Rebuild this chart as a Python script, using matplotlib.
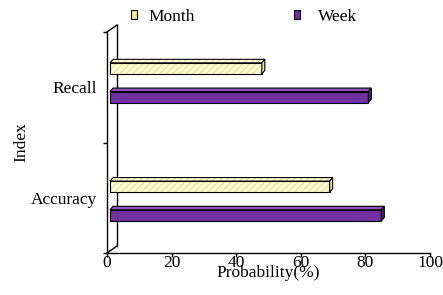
import matplotlib
matplotlib.use("Agg")
import matplotlib.pyplot as plt
import matplotlib.transforms as mtransforms
from matplotlib.patches import Polygon, Patch
from matplotlib.lines import Line2D
import numpy as np

plt.rcParams['font.family'] = ['Liberation Serif', 'DejaVu Serif']
plt.rcParams['hatch.linewidth'] = 0.9

categories = ["Accuracy", "Recall"]
month_vals = [68, 47]
week_vals = [84, 80]
series_names = ["Month", "Week"]
x_ticks = [0, 20, 40, 60, 80, 100]

FS = 12.5
W, H = 443, 295
fig = plt.figure(figsize=(W / 100, H / 100), dpi=100)
ax = fig.add_axes([107 / W, (H - 253) / H, 323 / W, 221 / H])
ax.set_xlim(0, 100)
ax.set_ylim(-0.5, 1.5)

month_color = '#FFFFE8'
month_hatch = '#EDE66A'
month_top = '#FFFFF4'
month_side = '#E8E4B0'
week_color = '#7030A0'
week_top = '#8E55BA'
week_side = '#4E1F72'

shift = mtransforms.ScaledTranslation(3 / 100, 0, fig.dpi_scale_trans)
bar_h = 0.1
y = np.arange(len(categories))
group_shift = np.array([-0.035, 0.035])  # perspective spread of the groups
offsets = {"Month": 0.136, "Week": -0.124}
DX, DY = 3, 3.5  # depth in px


def draw_series(vals, off, face, top, side, hatch=None, hcol=None):
    ys = y + group_shift + off
    if hatch:
        hb = ax.barh(ys, vals, height=bar_h, left=0, color=face, edgecolor=hcol,
                     hatch=hatch, linewidth=0, zorder=3)
        for p in hb:
            p.set_transform(ax.transData + shift)
    fb = ax.barh(ys, vals, height=bar_h, left=0,
                 color='none' if hatch else face, edgecolor='black',
                 linewidth=0.8, zorder=4)
    for p in fb:
        p.set_transform(ax.transData + shift)
    for yi, v in zip(ys, vals):
        (x0, y0), (x1, y1) = ax.transData.transform([(0, yi - bar_h / 2), (v, yi + bar_h / 2)])
        x0 += 3
        x1 += 3
        topf = [(x0, y1), (x1, y1), (x1 + DX, y1 + DY), (x0 + DX, y1 + DY)]
        sidef = [(x1, y0), (x1 + DX, y0 + DY), (x1 + DX, y1 + DY), (x1, y1)]
        for pts, c in ((topf, top), (sidef, side)):
            pg = Polygon(pts, closed=True, facecolor=c, edgecolor='black', linewidth=0.8,
                         transform=mtransforms.IdentityTransform(), zorder=4, clip_on=False)
            if hatch and c == top:
                pg2 = Polygon(pts, closed=True, facecolor=c, edgecolor=hcol, hatch=hatch,
                              linewidth=0, transform=mtransforms.IdentityTransform(),
                              zorder=3.5, clip_on=False)
                fig.add_artist(pg2)
                pg.set_facecolor('none')
            fig.add_artist(pg)


# back wall
wall = mtransforms.ScaledTranslation(10 / 100, 7 / 100, fig.dpi_scale_trans)
ax.add_line(Line2D([0, 0], [0, 1], transform=ax.transAxes + wall, color='black',
                   linewidth=1.0, clip_on=False, zorder=1))
(lx, by), (_, ty) = ax.transAxes.transform([(0, 0), (0, 1)])
for yy in (by, ty):
    fig.add_artist(Line2D([lx, lx + 10], [yy, yy + 7], color='black', linewidth=1.0,
                          transform=mtransforms.IdentityTransform(), zorder=1))

draw_series(month_vals, offsets["Month"], month_color, month_top, month_side,
            hatch='/////', hcol=month_hatch)
draw_series(week_vals, offsets["Week"], week_color, week_top, week_side)

for s in ('top', 'right'):
    ax.spines[s].set_visible(False)
for s in ('left', 'bottom'):
    ax.spines[s].set_linewidth(1.0)
    ax.spines[s].set_zorder(5)

ax.set_xticks(x_ticks)
ax.set_xticklabels([str(t) for t in x_ticks], fontsize=FS)
ax.tick_params(axis='x', direction='out', length=3, width=1.0, pad=-1.5)
ax.set_yticks([-0.5, 0.5, 1.5])
ax.set_yticklabels([])
ax.set_yticks(y, minor=True)
ax.set_yticklabels(categories, minor=True, fontsize=FS)
ax.tick_params(axis='y', which='major', direction='out', length=3, width=1.0)
ax.tick_params(axis='y', which='minor', length=0, pad=7.2)

ax.set_xlabel("Probability(%)", fontsize=FS)
ax.xaxis.set_label_coords(0.5, -0.055)
ax.set_ylabel("Index", fontsize=FS)
ax.yaxis.set_label_coords(-0.241, 0.5)

hl = dict(frameon=False, fontsize=FS, handlelength=0.4, handleheight=0.4,
          borderpad=0, borderaxespad=0, loc='center left')
fig.legend(handles=[Patch(facecolor='#F4EE8C', edgecolor='black', linewidth=0.8)],
           labels=[series_names[0]],
           bbox_to_anchor=(130.5 / W, (H - 17) / H), handletextpad=0.66, **hl)
fig.legend(handles=[Patch(facecolor=week_color, edgecolor='black', linewidth=0.8)],
           labels=[series_names[1]],
           bbox_to_anchor=(293.5 / W, (H - 17) / H), handletextpad=1.0, **hl)

fig.savefig("out.png", dpi=100)
